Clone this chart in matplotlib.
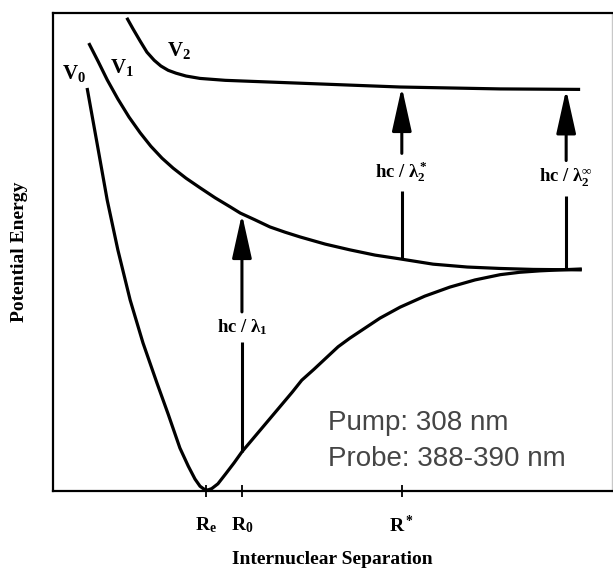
import matplotlib
matplotlib.use("Agg")
import matplotlib.pyplot as plt

plt.rcParams["font.family"] = ["Liberation Serif", "DejaVu Serif"]
plt.rcParams["font.weight"] = "bold"
plt.rcParams["axes.labelweight"] = "bold"
plt.rcParams["mathtext.fontset"] = "custom"
plt.rcParams["mathtext.rm"] = "Liberation Serif:bold"
plt.rcParams["mathtext.it"] = "Liberation Serif:bold"
plt.rcParams["mathtext.bf"] = "Liberation Serif:bold"
plt.rcParams["mathtext.default"] = "rm"

# Potential energy curves (arbitrary units: separation 0-10, energy 0-10)
v0_x = [0.61, 0.79, 0.97, 1.16, 1.38, 1.61, 1.86, 2.06, 2.27, 2.42, 2.54, 2.63, 2.70,
        2.77, 2.84, 2.95, 3.09, 3.24, 3.38, 3.56, 3.74, 3.92, 4.10, 4.28, 4.45, 4.67,
        4.88, 5.10, 5.31, 5.58, 5.85, 6.21, 6.65, 7.10, 7.55, 8.00, 8.35, 8.71, 9.07, 9.46]
v0_y = [8.43, 7.26, 6.08, 5.04, 3.99, 3.09, 2.25, 1.60, 0.89, 0.51, 0.24, 0.09, 0.03,
        0.01, 0.04, 0.14, 0.35, 0.58, 0.81, 1.06, 1.31, 1.56, 1.81, 2.06, 2.31, 2.54,
        2.77, 3.01, 3.19, 3.40, 3.61, 3.84, 4.07, 4.26, 4.41, 4.52, 4.57, 4.60, 4.62, 4.64]

v1_x = [0.64, 0.81, 0.97, 1.16, 1.36, 1.56, 1.75, 1.95, 2.15, 2.38, 2.63, 2.90, 3.17,
        3.35, 3.61, 3.88, 4.15, 4.42, 4.87, 5.31, 5.76, 6.21, 6.80, 7.41, 8.00, 8.59, 9.46]
v1_y = [9.37, 8.98, 8.60, 8.20, 7.82, 7.49, 7.21, 6.96, 6.75, 6.54, 6.34, 6.13, 5.94,
        5.81, 5.67, 5.52, 5.41, 5.31, 5.16, 5.04, 4.93, 4.85, 4.74, 4.68, 4.65, 4.63, 4.62]

v2_x = [1.32, 1.43, 1.56, 1.68, 1.81, 1.93, 2.06, 2.20, 2.38, 2.63, 3.08, 3.52, 4.42,
        5.31, 6.21, 7.10, 8.00, 9.43]
v2_y = [9.90, 9.67, 9.41, 9.18, 9.01, 8.89, 8.80, 8.74, 8.68, 8.63, 8.59, 8.57, 8.53,
        8.49, 8.45, 8.43, 8.41, 8.40]

# Curve labels
curve_names = [r"$V_0$", r"$V_1$", r"$V_2$"]
curve_name_x = [0.16, 1.02, 2.04]
curve_name_y = [8.62, 8.74, 9.10]

# Separation ticks
tick_pos = [2.74, 3.38, 6.24]
tick_labels = [r"$R_e$", r"$R_0$", r"$R^*$"]

# Transitions: x, lower energy, upper energy, label
trans_x = [3.38, 6.24, 9.18]
trans_lo = [0.81, 4.84, 4.62]
trans_hi = [5.79, 8.45, 8.40]
trans_labels = [r"hc / $\lambda_1$", r"hc / $\lambda_2^*$", r"hc / $\lambda_2^{\infty}$"]
trans_label_y = [3.42, 6.67, 6.54]
gap_half = [0.32, 0.39, 0.37]

note_lines = ["Pump: 308 nm", "Probe: 388-390 nm"]

W, H = 613, 570
fig = plt.figure(figsize=(W / 100, H / 100), dpi=100)
ax = fig.add_axes([53 / W, (H - 490.5) / H, (612 - 53) / W, (490.5 - 13) / H])
ax.set_xlim(0, 10)
ax.set_ylim(0, 10)

lw = 2.3
for xs, ys in [(v0_x, v0_y), (v1_x, v1_y), (v2_x, v2_y)]:
    ax.plot(xs, ys, color="black", lw=lw, solid_capstyle="butt", solid_joinstyle="round")

for name, x, y in zip(curve_names, curve_name_x, curve_name_y):
    ax.text(x, y, name, fontsize=15, ha="left", va="baseline")

for x, lo, hi, lab, ly, g in zip(trans_x, trans_lo, trans_hi, trans_labels,
                                  trans_label_y, gap_half):
    ax.plot([x, x], [lo, ly - g], color="black", lw=2.2, solid_capstyle="butt")
    ax.annotate("", xy=(x, hi), xytext=(x, ly + g),
                arrowprops=dict(arrowstyle="-|>,head_length=2.7,head_width=0.6",
                                color="black", lw=2.2, shrinkA=0, shrinkB=0,
                                mutation_scale=10))
    ax.text(x, ly, lab, fontsize=13.5, ha="center", va="center")

ax.set_xticks(tick_pos)
ax.set_xticklabels(tick_labels, fontsize=14)
ax.set_yticks([])
ax.tick_params(axis="x", direction="inout", length=9, width=1.3, pad=13)

for s in ["left", "top", "bottom"]:
    ax.spines[s].set_linewidth(1.6)
ax.spines["right"].set_color("#c8c8c8")
ax.spines["right"].set_linewidth(1.0)

ax.set_xlabel("Internuclear Separation", fontsize=14, labelpad=11)
ax.set_ylabel("Potential Energy", fontsize=14, labelpad=18)

for i, line in enumerate(note_lines):
    fig.text(328 / W, 1 - (430 + 36 * i) / H, line, fontsize=20, color="#454545",
             family="Liberation Sans", weight="normal", ha="left", va="baseline")

fig.savefig("out.png", dpi=100)
